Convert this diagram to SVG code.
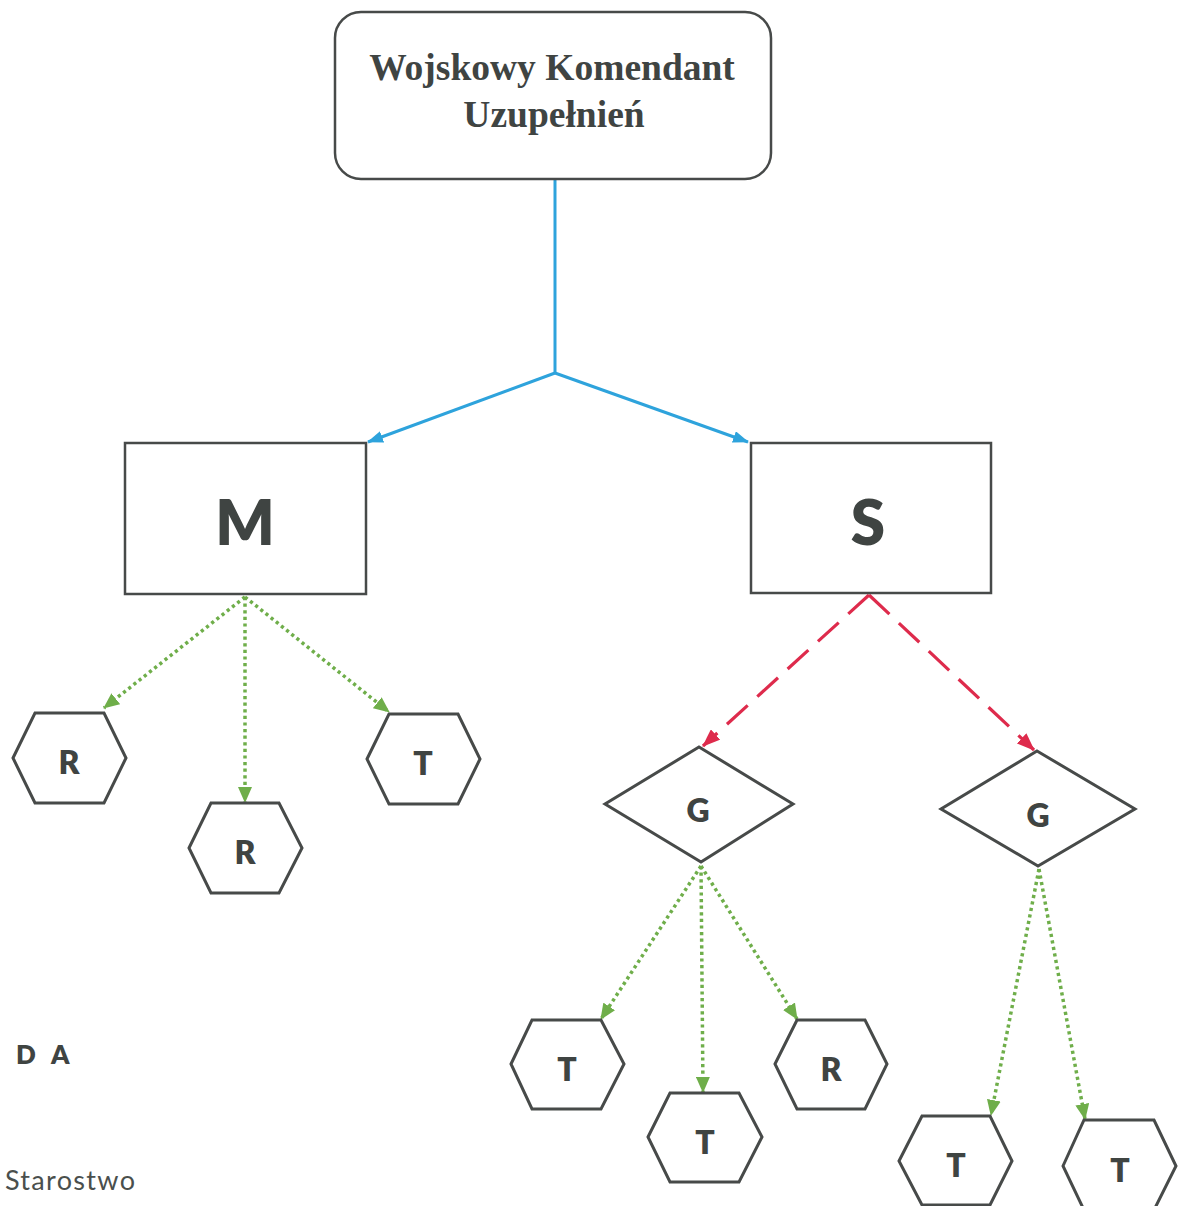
<svg xmlns="http://www.w3.org/2000/svg" width="1180" height="1206" viewBox="0 0 1180 1206">
<defs>
<style>
.box{fill:#fff;stroke:#474a49;stroke-width:2.5}
.hex{fill:#fff;stroke:#474a49;stroke-width:3}
.lbl{font-family:Lato,"Open Sans",sans-serif;font-weight:800;fill:#3f4442;text-anchor:middle}
.blue{stroke:#2ea3dc;stroke-width:3;fill:none}
.green{stroke:#6fae4a;stroke-width:3.5;fill:none;stroke-dasharray:3.2 3.4}
.red{stroke:#de2b4c;stroke-width:3.2;fill:none;stroke-dasharray:28 13}
</style>
<marker id="ab" viewBox="0 0 16 12" refX="15" refY="6" markerWidth="16" markerHeight="12" markerUnits="userSpaceOnUse" orient="auto"><path d="M0,0 L16,6 L0,12 Z" fill="#2ea3dc"/></marker>
<marker id="ag" viewBox="0 0 16 14" refX="15" refY="7" markerWidth="16" markerHeight="14" markerUnits="userSpaceOnUse" orient="auto"><path d="M0,0 L16,7 L0,14 Z" fill="#6fae4a"/></marker>
<marker id="ar" viewBox="0 0 18 14" refX="17" refY="7" markerWidth="18" markerHeight="14" markerUnits="userSpaceOnUse" orient="auto"><path d="M0,0 L18,7 L0,14 Z" fill="#de2b4c"/></marker>
</defs>
<rect width="1180" height="1206" fill="#fff"/>
<g id="connectors">
<path class="blue" d="M555,180 L555,373"/>
<path class="blue" d="M555,373 L368,442" marker-end="url(#ab)"/>
<path class="blue" d="M555,373 L748,442" marker-end="url(#ab)"/>
<path class="green" d="M245,597 L104,708" marker-end="url(#ag)"/>
<path class="green" d="M245,597 L245,802" marker-end="url(#ag)"/>
<path class="green" d="M245,597 L389,712" marker-end="url(#ag)"/>
<path class="red" d="M869,595 L703,746" marker-end="url(#ar)"/>
<path class="red" d="M869,595 L1034,750" marker-end="url(#ar)"/>
<path class="green" d="M701,866 L601,1019" marker-end="url(#ag)"/>
<path class="green" d="M701,866 L703,1092" marker-end="url(#ag)"/>
<path class="green" d="M701,866 L797,1019" marker-end="url(#ag)"/>
<path class="green" d="M1039,869 L991,1115" marker-end="url(#ag)"/>
<path class="green" d="M1039,869 L1085,1119" marker-end="url(#ag)"/>
</g>
<g id="wku">
<rect class="box" x="335" y="12" width="436" height="167" rx="26"/>
<text x="552" y="80" font-family="'Liberation Serif','Times New Roman',serif" font-weight="bold" font-size="37.5" fill="#3f4442" text-anchor="middle">Wojskowy Komendant</text>
<text x="554" y="127" font-family="'Liberation Serif','Times New Roman',serif" font-weight="bold" font-size="37.5" fill="#3f4442" text-anchor="middle">Uzupełnień</text>
</g>
<g id="m"><rect class="box" x="125" y="443" width="241" height="151"/><text class="lbl" x="245" y="545" font-size="62">M</text></g>
<g id="s"><rect class="box" x="751" y="443" width="240" height="150"/><text class="lbl" x="868" y="545" font-size="62">S</text></g>
<g id="r1"><polygon class="hex" points="13,758 35,713 104,713 126,758 104,803 35,803"/><text class="lbl" x="69" y="774" font-size="32">R</text></g>
<g id="r2"><polygon class="hex" points="189,848 211,803 279,803 302,848 279,893 211,893"/><text class="lbl" x="245" y="864" font-size="32">R</text></g>
<g id="t1"><polygon class="hex" points="367,759 389,714 458,714 480,759 458,804 389,804"/><text class="lbl" x="423" y="775" font-size="32">T</text></g>
<g id="g1"><polygon class="hex" points="699,747 793,804 701,862 605,804"/><text class="lbl" x="698" y="822" font-size="32">G</text></g>
<g id="g2"><polygon class="hex" points="1037,751 1135,809 1038,866 941,809"/><text class="lbl" x="1038" y="827" font-size="32">G</text></g>
<g id="t2"><polygon class="hex" points="511,1064 532,1020 601,1020 624,1064 601,1109 532,1109"/><text class="lbl" x="567" y="1081" font-size="32">T</text></g>
<g id="t3"><polygon class="hex" points="648,1137 670,1093 739,1093 762,1137 739,1182 670,1182"/><text class="lbl" x="705" y="1154" font-size="32">T</text></g>
<g id="r3"><polygon class="hex" points="775,1064 797,1020 865,1020 887,1064 865,1109 797,1109"/><text class="lbl" x="831" y="1081" font-size="32">R</text></g>
<g id="t4"><polygon class="hex" points="899,1161 922,1116 990,1116 1012,1161 990,1205 922,1205"/><text class="lbl" x="956" y="1177" font-size="32">T</text></g>
<g id="t5"><polygon class="hex" points="1063,1166 1084,1120 1154,1120 1176,1166 1154,1210 1084,1210"/><text class="lbl" x="1120" y="1182" font-size="32">T</text></g>
<g id="legend">
<text x="16" y="1064" font-family="Lato,'Open Sans',sans-serif" font-weight="800" font-size="26" word-spacing="10" fill="#3f4442">D A</text>
<text x="5" y="1190" font-family="Lato,'Open Sans',sans-serif" font-size="27" textLength="130" lengthAdjust="spacing" fill="#4a4f4d">Starostwo</text>
</g>
</svg>
